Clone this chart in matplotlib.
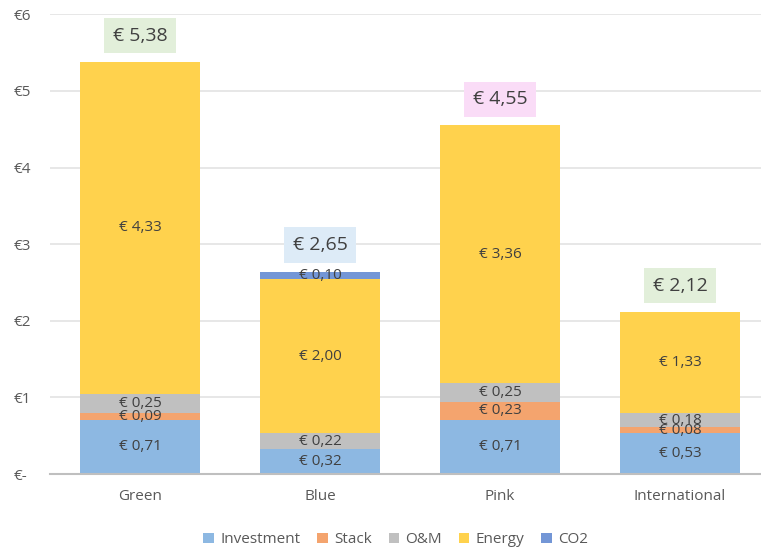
import matplotlib
matplotlib.use("Agg")
import matplotlib.pyplot as plt
import numpy as np

categories = ["Green", "Blue", "Pink", "International"]
investment = [0.71, 0.32, 0.71, 0.53]
stack = [0.09, 0.00, 0.23, 0.08]
om = [0.25, 0.22, 0.25, 0.18]
energy = [4.33, 2.00, 3.36, 1.33]
co2 = [0.00, 0.10, 0.00, 0.00]
totals = [5.38, 2.65, 4.55, 2.12]
yticks = [0, 1, 2, 3, 4, 5, 6]
ytick_labels = ["€-", "€1", "€2", "€3", "€4", "€5", "€6"]

series = [("Investment", investment, "#8DB8E2"),
          ("Stack", stack, "#F4A46E"),
          ("O&M", om, "#C0C0C0"),
          ("Energy", energy, "#FFD24D"),
          ("CO2", co2, "#7396D6")]
total_box = ["#E2EFDA", "#DDEBF7", "#FADCF7", "#E2EFDA"]

plt.rcParams['font.family'] = ['Open Sans', 'DejaVu Sans']
fig = plt.figure(figsize=(7.61, 5.48), dpi=100)
ax = fig.add_axes([50 / 761, 0.135, 720 / 761, 0.839])

x = np.arange(len(categories))
bottom = np.zeros(len(categories))
for name, vals, col in series:
    vals = np.array(vals)
    ax.bar(x, vals, 0.667, bottom=bottom, color=col, label=name, zorder=2)
    for i, v in enumerate(vals):
        if v > 0:
            ax.text(x[i], bottom[i] + v / 2, f"€ {v:.2f}".replace(".", ","),
                    ha="center", va="center", fontsize=11, color="#404040", zorder=3)
    bottom += vals

for i, t in enumerate(totals):
    ax.text(x[i], t + 0.34, f"€ {t:.2f}".replace(".", ","), ha="center", va="center",
            fontsize=14, color="#404040", zorder=3,
            bbox=dict(boxstyle="square,pad=0.45", fc=total_box[i], ec="none"))

ax.set_xlim(-0.5, 3.5)
ax.set_ylim(0, 6)
ax.set_yticks(yticks)
ax.set_yticklabels(ytick_labels)
ax.set_xticks(x)
ax.set_xticklabels(categories)
ax.yaxis.grid(True, color="#E3E3E3", lw=1.2, zorder=0)
ax.set_axisbelow(True)
for s in ["top", "right", "left"]:
    ax.spines[s].set_visible(False)
ax.spines["bottom"].set_color("#BFBFBF")
ax.spines["bottom"].set_linewidth(1.5)
ax.tick_params(axis="both", length=0, labelsize=11, colors="#595959")
ax.tick_params(axis="x", pad=11)
for lbl in ax.get_yticklabels():
    lbl.set_horizontalalignment("left")
ax.yaxis.set_tick_params(pad=26)

leg = fig.legend(loc="lower center", bbox_to_anchor=(0.52, -0.024), ncol=5, frameon=False,
                 fontsize=11, handlelength=0.7, handleheight=0.7, columnspacing=1.1,
                 handletextpad=0.4)
for t in leg.get_texts():
    t.set_color("#595959")

fig.savefig("out.png", dpi=100)
